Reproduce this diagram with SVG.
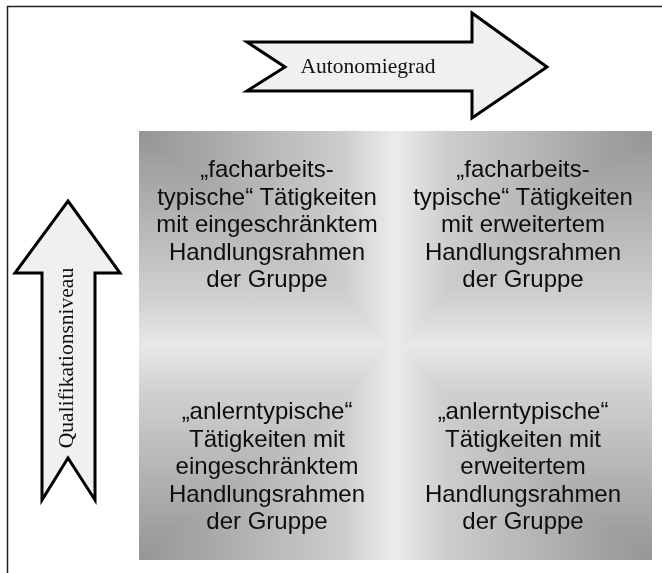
<svg xmlns="http://www.w3.org/2000/svg" width="662" height="573" viewBox="0 0 662 573">
<style>
.arrow{fill:#f0f0f0;stroke:#000;stroke-width:3;stroke-linejoin:miter}
.albl{font-family:"Liberation Serif","Times New Roman",serif;font-size:21.5px;fill:#111}
.q{font-family:"Liberation Sans",Arial,sans-serif;font-size:24px;fill:#0d0d0d;text-anchor:middle}
</style>
<defs>
<linearGradient id="gh" x1="0" y1="0" x2="1" y2="0">
<stop offset="0" stop-color="#959595"/>
<stop offset="0.40" stop-color="#cdcdcd"/>
<stop offset="0.5" stop-color="#ececec"/>
<stop offset="0.60" stop-color="#cdcdcd"/>
<stop offset="1" stop-color="#959595"/>
</linearGradient>
<linearGradient id="gv" x1="0" y1="0" x2="0" y2="1">
<stop offset="0" stop-color="#959595"/>
<stop offset="0.40" stop-color="#d2d2d2"/>
<stop offset="0.5" stop-color="#e8e8e8"/>
<stop offset="0.60" stop-color="#d2d2d2"/>
<stop offset="1" stop-color="#959595"/>
</linearGradient>
</defs>
<rect width="662" height="573" fill="#fff"/>
<path d="M7.5,573 V6.5 H662" fill="none" stroke="#222" stroke-width="1.5"/>
<g id="matrix">
<rect x="139" y="131" width="513" height="429" fill="url(#gh)"/>
<rect x="139" y="131" width="513" height="429" fill="url(#gv)" style="mix-blend-mode:lighten"/>
</g>
<g id="autonomiegrad">
<path class="arrow" d="M247,42 H472 V13 L547,67 L472,118 V91 H247 L285,67 Z"/>
<text class="albl" x="368" y="73" text-anchor="middle">Autonomiegrad</text>
</g>
<g id="qualifikationsniveau">
<path class="arrow" d="M68,201 L120,273 H95 V500 L68,458 L42,500 V273 H15 Z"/>
<text class="albl" x="-358" y="73" text-anchor="middle" transform="rotate(-90)">Qualifikationsniveau</text>
</g>
<g id="q1">
<text class="q" x="267" y="177">„facharbeits-</text>
<text class="q" x="267" y="204.5">typische“ Tätigkeiten</text>
<text class="q" x="267" y="232">mit eingeschränktem</text>
<text class="q" x="267" y="259.5">Handlungsrahmen</text>
<text class="q" x="267" y="287">der Gruppe</text>
</g>
<g id="q2">
<text class="q" x="523" y="177">„facharbeits-</text>
<text class="q" x="523" y="204.5">typische“ Tätigkeiten</text>
<text class="q" x="523" y="232">mit erweitertem</text>
<text class="q" x="523" y="259.5">Handlungsrahmen</text>
<text class="q" x="523" y="287">der Gruppe</text>
</g>
<g id="q3">
<text class="q" x="267" y="419">„anlerntypische“</text>
<text class="q" x="267" y="446.5">Tätigkeiten mit</text>
<text class="q" x="267" y="474">eingeschränktem</text>
<text class="q" x="267" y="501.5">Handlungsrahmen</text>
<text class="q" x="267" y="529">der Gruppe</text>
</g>
<g id="q4">
<text class="q" x="523" y="419">„anlerntypische“</text>
<text class="q" x="523" y="446.5">Tätigkeiten mit</text>
<text class="q" x="523" y="474">erweitertem</text>
<text class="q" x="523" y="501.5">Handlungsrahmen</text>
<text class="q" x="523" y="529">der Gruppe</text>
</g>
<g id="connectors"/>
</svg>
